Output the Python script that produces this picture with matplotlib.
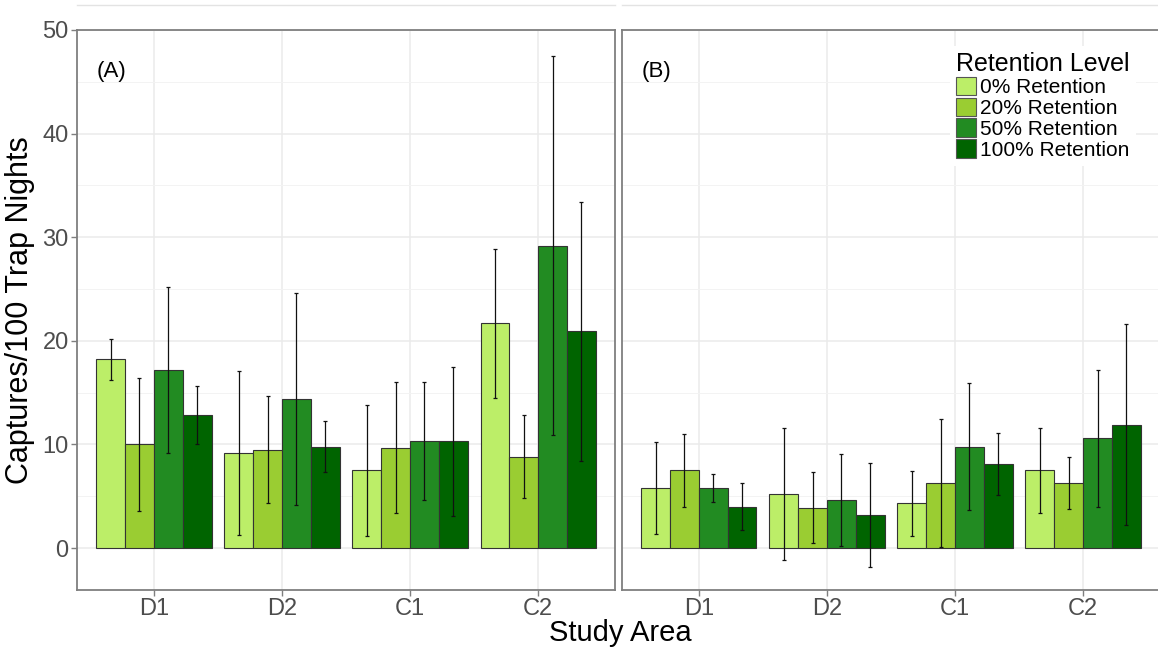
import matplotlib
matplotlib.use('Agg')
import matplotlib.pyplot as plt
import numpy as np
from matplotlib.patches import Patch
from matplotlib.lines import Line2D

plt.rcParams['font.family'] = ['Liberation Sans', 'DejaVu Sans']

areas = ['D1', 'D2', 'C1', 'C2']
levels = ['0% Retention', '20% Retention', '50% Retention', '100% Retention']
colors = ['#BCEE68', '#9ACD32', '#228B22', '#006400']

# panel A: means and error half-widths, one list per retention level
means_a = [
    [18.2, 9.2, 7.5, 21.7],
    [10.0, 9.5, 9.7, 8.8],
    [17.2, 14.4, 10.3, 29.2],
    [12.8, 9.8, 10.3, 20.9],
]
errs_a = [
    [2.0, 7.9, 6.3, 7.2],
    [6.45, 5.2, 6.3, 4.0],
    [8.0, 10.2, 5.7, 18.3],
    [2.8, 2.5, 7.2, 12.5],
]

# panel B
means_b = [
    [5.8, 5.2, 4.3, 7.5],
    [7.5, 3.9, 6.3, 6.3],
    [5.8, 4.6, 9.8, 10.6],
    [4.0, 3.2, 8.1, 11.9],
]
errs_b = [
    [4.4, 6.4, 3.15, 4.1],
    [3.5, 3.45, 6.2, 2.5],
    [1.35, 4.45, 6.1, 6.6],
    [2.25, 5.0, 3.0, 9.7],
]

W, H = 1158, 656
fig = plt.figure(figsize=(W / 100, H / 100), dpi=100)

top, bottom = 30, 590
pw = 538
ax_a = fig.add_axes([77 / W, (H - bottom) / H, pw / W, (bottom - top) / H])
ax_b = fig.add_axes([622 / W, (H - bottom) / H, pw / W, (bottom - top) / H])

x = np.arange(len(areas))
bw = 0.225
offsets = (np.arange(4) - 1.5) * bw

for ax, means, errs, tag in [(ax_a, means_a, errs_a, '(A)'), (ax_b, means_b, errs_b, '(B)')]:
    ax.set_xlim(-0.6, 3.6)
    ax.set_ylim(-4.05, 50)
    ax.set_yticks([0, 10, 20, 30, 40, 50])
    ax.set_yticks([5, 15, 25, 35, 45], minor=True)
    ax.set_xticks(x)
    ax.set_xticklabels(areas)
    ax.grid(True, which='major', color='#ebebeb', linewidth=1.1)
    ax.grid(True, which='minor', axis='y', color='#f3f3f3', linewidth=0.7)
    ax.set_axisbelow(True)
    for i in range(4):
        ax.bar(x + offsets[i], means[i], width=bw, color=colors[i],
               edgecolor='#333333', linewidth=0.8, zorder=2)
        ax.errorbar(x + offsets[i], means[i], yerr=errs[i], fmt='none',
                    ecolor='#111111', elinewidth=0.9, capsize=1.5,
                    capthick=0.9, zorder=3)
    for s in ax.spines.values():
        s.set_color('#7f7f7f')
        s.set_linewidth(1.3)
    ax.tick_params(axis='both', which='major', labelsize=17, labelcolor='#4d4d4d',
                   color='#7f7f7f', length=4, width=1, pad=2)
    ax.tick_params(axis='y', which='minor', length=0)
    ax.text(-0.45, 46, tag, fontsize=16, color='black', va='center', ha='left')

ax_b.tick_params(axis='y', which='both', left=False, labelleft=False)

ax_a.set_ylabel('Captures/100 Trap Nights', fontsize=22, color='black', labelpad=5)

fig.text(620 / W, 1 - 633 / H, 'Study Area', fontsize=21, ha='center', va='center')

# faint strip lines above the panels
for x0, x1 in [(77, 615), (622, 1158)]:
    fig.add_artist(Line2D([x0 / W, x1 / W], [1 - 4.5 / H, 1 - 4.5 / H],
                          color='#e3e3e3', linewidth=1))

handles = [Patch(facecolor=c, edgecolor='#555555', linewidth=0.8) for c in colors]
leg = ax_b.legend(handles, levels, title='Retention Level', loc='upper left',
                  bbox_to_anchor=((950 - 622) / pw, 1 - (46 - top) / (bottom - top)),
                  fontsize=15, title_fontsize=18, frameon=True, framealpha=1,
                  edgecolor='white', fancybox=False, borderpad=0.3,
                  handlelength=0.95, handleheight=1.0, handletextpad=0.2,
                  labelspacing=0.02, borderaxespad=0, alignment='left')
leg.get_frame().set_linewidth(0)

fig.savefig('out.png', dpi=100)
